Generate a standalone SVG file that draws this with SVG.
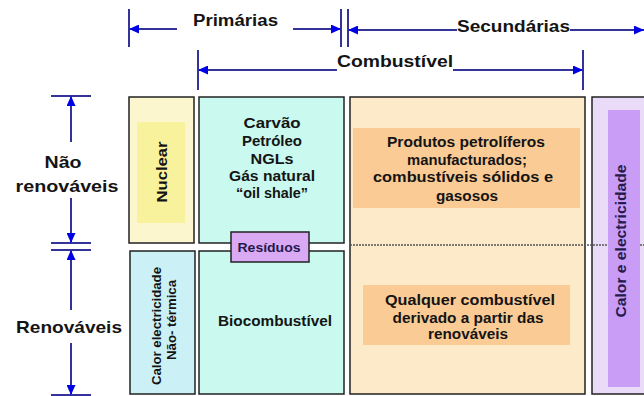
<svg xmlns="http://www.w3.org/2000/svg" width="644" height="396" viewBox="0 0 644 396">
<defs>
<style>
.t{font-family:"Liberation Sans",Arial,sans-serif;font-weight:bold;fill:#141414}
.tn{fill:#241a4d}
.box{stroke:#222;stroke-width:1.5}
.ln{stroke:#33339a;stroke-width:2;fill:none}
.tk{stroke:#33339a;stroke-width:2}
.arr{marker-end:url(#ah)}
.dot{stroke:#555;stroke-width:1.5;stroke-dasharray:2 1}
</style>
<marker id="ah" viewBox="0 0 10 9" refX="10" refY="4.5" markerWidth="10" markerHeight="9" markerUnits="userSpaceOnUse" orient="auto">
<path d="M0,0 L10,4.5 L0,9 z" fill="#0000e6"/>
</marker>
</defs>
<rect width="644" height="396" fill="#fff"/>

<g id="nuclear">
<rect class="box" x="129" y="97" width="65" height="146" fill="#fbf6cd"/>
<rect x="137" y="122" width="48" height="101" fill="#f9f29c"/>
<text class="t" transform="translate(167,172) rotate(-90)" text-anchor="middle" font-size="15" textLength="61" lengthAdjust="spacingAndGlyphs">Nuclear</text>
</g>

<g id="calor-nao-termica">
<rect class="box" x="130" y="251" width="65" height="143" fill="#cbf1f6"/>
<text class="t" transform="translate(161,326) rotate(-90)" text-anchor="middle" font-size="13" textLength="118" lengthAdjust="spacingAndGlyphs">Calor electricidade</text>
<text class="t" transform="translate(176,320) rotate(-90)" text-anchor="middle" font-size="13" textLength="80" lengthAdjust="spacingAndGlyphs">Não- térmica</text>
</g>

<g id="fosseis">
<rect class="box" x="199" y="97" width="145" height="146" fill="#c9f9ef"/>
<g class="t" font-size="14" text-anchor="middle">
<text x="272" y="128" textLength="57" lengthAdjust="spacingAndGlyphs">Carvão</text>
<text x="272" y="146" textLength="60" lengthAdjust="spacingAndGlyphs">Petróleo</text>
<text x="272" y="164" textLength="43" lengthAdjust="spacingAndGlyphs">NGLs</text>
<text x="272" y="181" textLength="86" lengthAdjust="spacingAndGlyphs">Gás natural</text>
<text x="272" y="198" textLength="72" lengthAdjust="spacingAndGlyphs">“oil shale”</text>
</g>
</g>

<g id="biocombustivel">
<rect class="box" x="199" y="251" width="145" height="143" fill="#c9f9ef"/>
<text class="t" x="275" y="326" text-anchor="middle" font-size="14" textLength="114" lengthAdjust="spacingAndGlyphs">Biocombustível</text>
</g>

<g id="secundarios">
<rect class="box" x="350" y="97" width="235" height="297" fill="#fdeac9"/>
<rect x="353" y="128" width="227" height="80" fill="#fbcb95"/>
<rect x="363" y="285" width="207" height="60" fill="#fbcb95"/>
<g class="t" font-size="14" text-anchor="middle">
<text x="466" y="147" textLength="158" lengthAdjust="spacingAndGlyphs">Produtos petrolíferos</text>
<text x="467" y="165" textLength="120" lengthAdjust="spacingAndGlyphs">manufacturados;</text>
<text x="463" y="182" textLength="180" lengthAdjust="spacingAndGlyphs">combustíveis sólidos e</text>
<text x="467" y="201" textLength="62" lengthAdjust="spacingAndGlyphs">gasosos</text>
<text x="470" y="305" textLength="170" lengthAdjust="spacingAndGlyphs">Qualquer combustível</text>
<text x="468" y="323" textLength="151" lengthAdjust="spacingAndGlyphs">derivado a partir das</text>
<text x="468" y="339" textLength="80" lengthAdjust="spacingAndGlyphs">renováveis</text>
</g>
</g>

<g id="calor-electricidade">
<rect class="box" x="592" y="97" width="60" height="297" fill="#eadcf8"/>
</g>

<g id="divisoria">
<line class="dot" x1="350" y1="245" x2="608" y2="245"/>
<line class="dot" x1="640" y1="245" x2="644" y2="245"/>
</g>

<g id="calor-electricidade-label">
<rect x="608" y="110" width="32" height="277" fill="#c99cf6"/>
<text class="t tn" transform="translate(626,241) rotate(-90)" text-anchor="middle" font-size="15" textLength="153" lengthAdjust="spacingAndGlyphs">Calor e electricidade</text>
</g>

<g id="residuos">
<rect x="231" y="232" width="78" height="30" fill="#d9a9f3" stroke="#222" stroke-width="1.5"/>
<text class="t tn" x="269" y="252" text-anchor="middle" font-size="13" textLength="63" lengthAdjust="spacingAndGlyphs">Resíduos</text>
</g>

<g id="connectors">
<line class="tk" x1="129" y1="9" x2="129" y2="47"/>
<line class="tk" x1="341" y1="9" x2="341" y2="47"/>
<line class="tk" x1="348" y1="9" x2="348" y2="47"/>
<line class="ln arr" x1="177" y1="29" x2="129" y2="29"/>
<line class="ln arr" x1="293" y1="29" x2="341" y2="29"/>
<line class="ln arr" x1="457" y1="30" x2="348" y2="30"/>
<line class="ln arr" x1="570" y1="30" x2="644" y2="30"/>
<line class="tk" x1="198" y1="50" x2="198" y2="90"/>
<line class="tk" x1="583" y1="50" x2="583" y2="90"/>
<line class="ln arr" x1="337" y1="70" x2="198" y2="70"/>
<line class="ln arr" x1="453" y1="70" x2="583" y2="70"/>
<line class="tk" x1="51" y1="96" x2="91" y2="96"/>
<line class="tk" x1="51" y1="243" x2="91" y2="243"/>
<line class="tk" x1="51" y1="250" x2="91" y2="250"/>
<line class="tk" x1="51" y1="395" x2="91" y2="395"/>
<line class="ln arr" x1="71" y1="142" x2="71" y2="96"/>
<line class="ln arr" x1="71" y1="198" x2="71" y2="243"/>
<line class="ln arr" x1="71" y1="310" x2="71" y2="250"/>
<line class="ln arr" x1="71" y1="343" x2="71" y2="395"/>
</g>

<g id="labels" class="t">
<text x="193" y="26" font-size="16" textLength="85" lengthAdjust="spacingAndGlyphs">Primárias</text>
<text x="457" y="32" font-size="16" textLength="113" lengthAdjust="spacingAndGlyphs">Secundárias</text>
<text x="337" y="67" font-size="16" textLength="116" lengthAdjust="spacingAndGlyphs">Combustível</text>
<text x="63" y="168" font-size="17" text-anchor="middle" textLength="37" lengthAdjust="spacingAndGlyphs">Não</text>
<text x="67" y="192" font-size="17" text-anchor="middle" textLength="103" lengthAdjust="spacingAndGlyphs">renováveis</text>
<text x="69" y="333" font-size="17" text-anchor="middle" textLength="106" lengthAdjust="spacingAndGlyphs">Renováveis</text>
</g>
</svg>
